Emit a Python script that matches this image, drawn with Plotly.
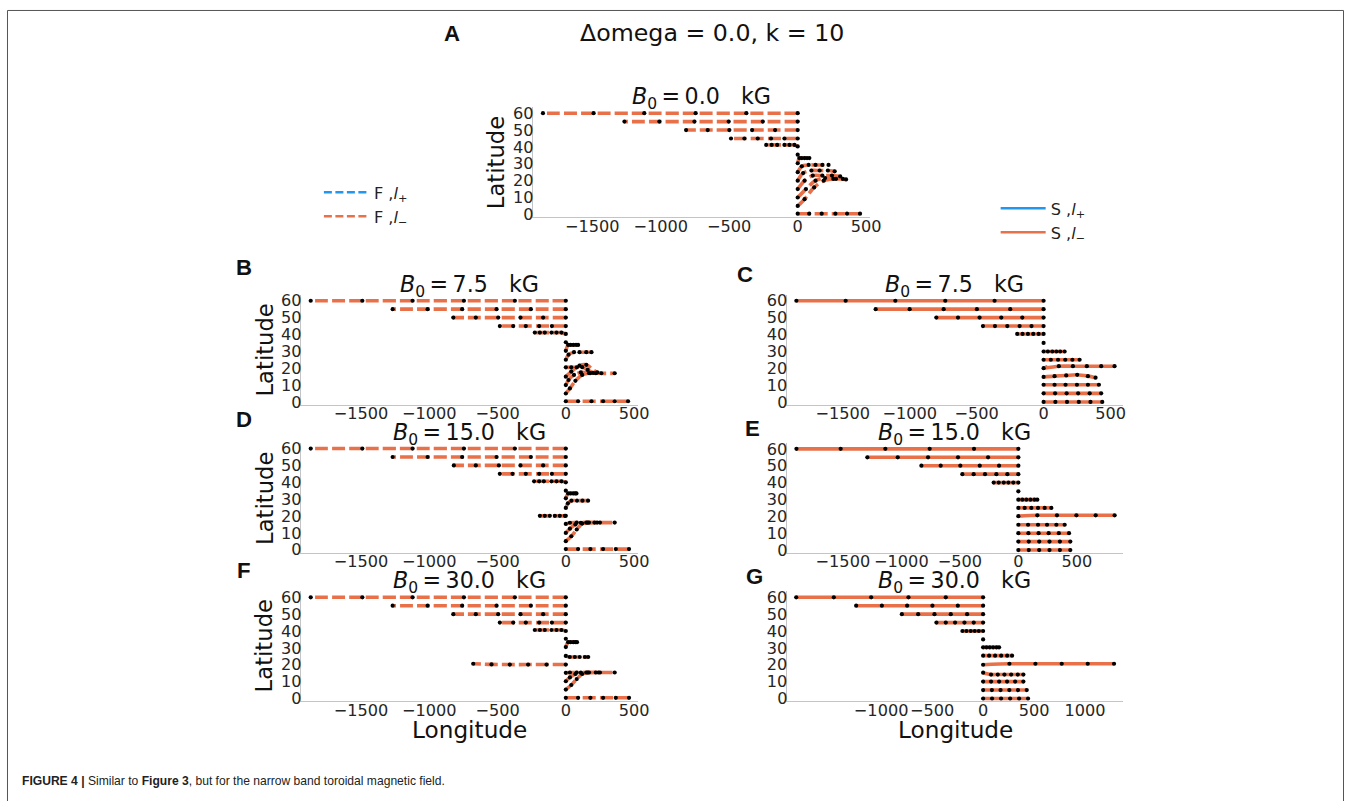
import plotly.graph_objects as go

W, H = 1356, 808
S = 0.9915          # the page is photographed at this scale; positions below are given in photo pixels
ORANGE = "#e8714a"
BLUE = "#2196f3"
FONT = "DejaVu Sans"

# ---------------- data: trajectories (longitude, latitude) ----------------
# Panel A : F, B0 = 0.0 kG
A_lon = [
    [0, -375, -745, -1120, -1490, -1860],
    [0, -255, -504, -754, -1010, -1265],
    [0, -165, -333, -499, -657, -815],
    [0, -97, -195, -292, -389, -487],
    [0, -24, -60, -97, -150, -190, -230],
    [0],
    [0, 12, 30, 50, 68, 85],
    [0, 30, 80, 130, 180, 225],
    [0, 40, 100, 160, 220, 270],
    [0, 50, 110, 180, 250, 310],
    [0, 60, 130, 200, 280, 353],
    [0, 50, 120, 190, 260, 330],
    [0, 84, 175, 275, 360, 455],
]
A_lat = [
    [60, 60, 60, 60, 60, 60],
    [55, 55, 55, 55, 55, 55],
    [50, 50, 50, 50, 50, 50],
    [45, 45, 45, 45, 45, 45],
    [40.3, 41.2, 41.2, 41.2, 41.2, 41.2, 41.2],
    [35.4],
    [30.3, 33.4, 33.4, 33.4, 33.4, 33.4],
    [25, 28.5, 29.3, 29.3, 29.3, 29.3],
    [20, 24.5, 26, 26, 26, 25.5],
    [15, 20, 23, 23, 23, 22.5],
    [10, 15, 20, 21.5, 21, 20.7],
    [5, 9, 16, 20, 21, 21],
    [0.4, 0.4, 0.4, 0.4, 0.4, 0.4],
]

# Panel B : F, B0 = 7.5 kG
B_lon = [
    [0, -373, -746, -1122, -1490, -1868],
    [0, -256, -507, -759, -1012, -1268],
    [0, -166, -332, -495, -659, -824],
    [0, -102, -195, -293, -385, -483],
    [0, -32, -68, -105, -154, -190, -227],
    [0],
    [0, 17, 35, 55, 75, 90],
    [0, 20, 60, 100, 150, 188],
    [0, 40, 80, 120, 160, 200],
    [0, 40, 100, 150, 230, 358],
    [0, 20, 60, 110, 180, 260],
    [0, 30, 70, 120, 170, 220],
    [0, 90, 188, 273, 358, 456],
]
B_lat = [
    [60, 60, 60, 60, 60, 60],
    [55, 55, 55, 55, 55, 55],
    [50, 50, 50, 50, 50, 50],
    [45, 45, 45, 45, 45, 45],
    [40.3, 41.1, 41.1, 41.1, 41.1, 41.1, 41.1],
    [35.4],
    [30.3, 33.8, 33.8, 33.8, 33.8, 33.8],
    [25, 28, 29.5, 29.5, 29.5, 29.5],
    [20.5, 20.5, 20.5, 20.6, 19, 17.2],
    [15, 18, 21.5, 22, 17.5, 17],
    [10, 13, 16, 17.5, 17.1, 17],
    [5, 8, 12.5, 16, 17, 17],
    [0.4, 0.4, 0.4, 0.4, 0.4, 0.4],
]

# Panel C : S, B0 = 7.5 kG
C_lon = [
    [0, -366, -734, -1107, -1478, -1846],
    [0, -249, -498, -746, -1000, -1254],
    [0, -159, -316, -478, -639, -801],
    [0, -90, -179, -271, -363, -453],
    [0, -37, -77, -117, -157, -197],
    [0],
    [0, 32, 65, 95, 124, 157],
    [0, 54, 108, 162, 215, 269],
    [0, 114, 219, 323, 430, 530],
    [0, 82, 169, 251, 331, 388],
    [0, 82, 164, 249, 331, 413],
    [0, 86, 172, 258, 344, 430],
    [0, 88, 175, 263, 350, 438],
]
C_lat = [
    [60, 60, 60, 60, 60, 60],
    [55, 55, 55, 55, 55, 55],
    [50, 50, 50, 50, 50, 50],
    [45, 45, 45, 45, 45, 45],
    [40.3, 40.3, 40.3, 40.3, 40.3, 40.3],
    [35],
    [29.9, 29.9, 29.9, 29.9, 29.9, 29.9],
    [25, 25, 25, 25, 25, 25],
    [20, 21.2, 21.2, 21.2, 21.2, 21.2],
    [14.8, 15.3, 15.7, 16.1, 15.3, 14.4],
    [10.2, 10.2, 10.2, 10.2, 10.2, 10.2],
    [5.1, 5.1, 5.1, 5.1, 5.1, 5.1],
    [0, 0, 0, 0, 0, 0],
]
C_plus_lon = [0, 30]
C_plus_lat = [20, 20.9]

# Panel D : F, B0 = 15.0 kG
D_lon = [
    [0, -373, -746, -1122, -1490, -1868],
    [0, -256, -507, -759, -1012, -1268],
    [0, -166, -332, -490, -659, -820],
    [0, -102, -195, -293, -390, -483],
    [0, -32, -68, -105, -161, -195, -232],
    [0],
    [0, 17, 35, 55, 70, 78],
    [0, 15, 41, 82, 122, 163],
    [0, -7, -44, -80, -117, -154, -190],
    [0, 30, 80, 150, 250, 358],
    [0, 30, 70, 110, 160, 210],
    [0, 40, 80, 120, 170, 230],
    [0, 90, 180, 273, 366, 463],
]
D_lat = [
    [60, 60, 60, 60, 60, 60],
    [55, 55, 55, 55, 55, 55],
    [50, 50, 50, 50, 50, 50],
    [45, 45, 45, 45, 45, 45],
    [40, 40.6, 40.6, 40.6, 40.6, 40.6, 40.6],
    [35],
    [30.5, 33.4, 33.4, 33.4, 33.4, 33.4],
    [24.8, 27.5, 29.1, 29.1, 29.1, 29.1],
    [20.1, 20.1, 20.1, 20.1, 20.1, 20.1, 20.1],
    [15.3, 16, 16.1, 16.1, 16.1, 16.1],
    [10, 12.5, 15, 16, 16.1, 16.1],
    [5.1, 8, 12, 15.5, 16.1, 16.1],
    [0.4, 0.4, 0.4, 0.4, 0.4, 0.4],
]

# Panel E : S, B0 = 15.0 kG
E_lon = [
    [0, -379, -758, -1137, -1519, -1897],
    [0, -259, -516, -772, -1031, -1291],
    [0, -165, -330, -496, -664, -829],
    [0, -94, -188, -285, -382, -479],
    [0, -43, -85, -125, -168, -211],
    [0],
    [0, 34, 68, 103, 137, 162],
    [0, 54, 111, 168, 225, 282],
    [0, 162, 330, 496, 661, 823],
    [0, 83, 168, 245, 325, 396],
    [0, 86, 173, 259, 346, 433],
    [0, 89, 178, 266, 355, 444],
    [0, 89, 178, 266, 355, 444],
]
E_lat = [
    [60, 60, 60, 60, 60, 60],
    [55, 55, 55, 55, 55, 55],
    [50, 50, 50, 50, 50, 50],
    [45, 45, 45, 45, 45, 45],
    [40, 40, 40, 40, 40, 40],
    [34.8],
    [29.9, 29.9, 29.9, 29.9, 29.9, 29.9],
    [25, 25, 25, 25, 25, 25],
    [20.1, 20.6, 20.6, 20.6, 20.6, 20.6],
    [15, 15, 15, 15, 15, 15],
    [10, 10, 10, 10, 10, 10],
    [5, 5, 5, 5, 5, 5],
    [0, 0, 0, 0, 0, 0],
]

# Panel F : F, B0 = 30.0 kG
F_lon = [
    [0, -373, -746, -1122, -1490, -1868],
    [0, -256, -507, -759, -1012, -1268],
    [0, -166, -332, -495, -659, -824],
    [0, -102, -195, -293, -385, -483],
    [0, -32, -68, -105, -154, -190, -227],
    [0],
    [0, 17, 35, 55, 70, 82],
    [0, 29, 66, 102, 140, 164],
    [0, -141, -276, -410, -544, -678],
    [0, 30, 80, 150, 250, 358],
    [0, 30, 70, 110, 160, 220],
    [0, 40, 80, 120, 170, 240],
    [0, 90, 180, 273, 366, 463],
]
F_lat = [
    [60, 60, 60, 60, 60, 60],
    [55, 55, 55, 55, 55, 55],
    [50, 50, 50, 50, 50, 50],
    [45, 45, 45, 45, 45, 45],
    [40, 40.6, 40.6, 40.6, 40.6, 40.6, 40.6],
    [35.4],
    [30.5, 33.4, 33.4, 33.4, 33.4, 33.4],
    [25.2, 24.6, 24.6, 24.6, 24.6, 24.6],
    [20.1, 20.1, 20.1, 20.1, 20.2, 20.6],
    [15.2, 15.4, 15.4, 15.4, 15.4, 15.4],
    [10.2, 12.5, 14.5, 15.3, 15.4, 15.4],
    [5.3, 8, 11.5, 14.5, 15.4, 15.4],
    [0.4, 0.4, 0.4, 0.4, 0.4, 0.4],
]

# Panel G : S, B0 = 30.0 kG
G_lon = [
    [0, -366, -732, -1098, -1464, -1833],
    [0, -248, -497, -745, -993, -1245],
    [0, -157, -317, -477, -637, -797],
    [0, -92, -183, -275, -366, -458],
    [0, -42, -82, -121, -163, -203],
    [0],
    [0, 33, 65, 98, 131, 157],
    [0, 59, 118, 177, 236, 284],
    [0, 258, 513, 771, 1026, 1284],
    [0, 78, 144, 209, 275, 340, 395],
    [0, 78, 157, 235, 314, 395],
    [0, 86, 171, 257, 342, 428],
    [0, 88, 176, 265, 353, 441],
]
G_lat = [
    [60, 60, 60, 60, 60, 60],
    [55, 55, 55, 55, 55, 55],
    [50, 50, 50, 50, 50, 50],
    [45, 45, 45, 45, 45, 45],
    [40, 40, 40, 40, 40, 40],
    [35],
    [30.3, 30.3, 30.3, 30.3, 30.3, 30.3],
    [25.4, 25.4, 25.4, 25.4, 25.4, 25.4],
    [20, 20.6, 20.6, 20.6, 20.6, 20.6],
    [15.3, 14.2, 14.2, 14.2, 14.2, 14.2, 14.2],
    [10, 10, 10, 10, 10, 10],
    [5, 5, 5, 5, 5, 5],
    [0, 0, 0, 0, 0, 0],
]

B0_values = ["0.0", "7.5", "7.5", "15.0", "15.0", "30.0", "30.0"]
panel_letters = ["A", "B", "C", "D", "E", "F", "G"]
panel_kind = ["F", "F", "S", "F", "S", "F", "S"]
lat_ticks = [0, 10, 20, 30, 40, 50, 60]
lon_ticks_std = [-1500, -1000, -500, 0, 500]
lon_ticks_G = [-1000, -500, 0, 500, 1000]

# ---------------- layout geometry (photo pixels from top-left) ----------------
geom = [
    ((533, 870), (104.6, 215.0), (-1934, 525.5)),
    ((301, 638), (292.9, 403.3), (-1940, 527)),
    ((787, 1123), (292.9, 403.3), (-1918, 590)),
    ((301, 638), (441.3, 551.7), (-1940, 527)),
    ((787, 1123), (441.6, 552.0), (-1980, 891)),
    ((301, 638), (590.6, 701.0), (-1940, 527)),
    ((787, 1123), (590.6, 701.0), (-1926, 1368)),
]
Y_RANGE = [-1.65, 63.55]

data_lon = [A_lon, B_lon, C_lon, D_lon, E_lon, F_lon, G_lon]
data_lat = [A_lat, B_lat, C_lat, D_lat, E_lat, F_lat, G_lat]


def px_x(p):
    return min(p / S / W, 1.0)


def px_y(p):
    return max(1 - p / S / H, 0.0)


def fs(size):
    return size / S


def tick_text(v):
    return ("\u2212" + str(-v)) if v < 0 else str(v)


fig = go.Figure()
layout = {}
annotations = []

for i in range(7):
    sfx = "" if i == 0 else str(i + 1)
    xa, ya = "x" + sfx, "y" + sfx
    (xl, xr), (yt, yb), xr_ = geom[i]
    dashed = panel_kind[i] == "F"
    line_style = dict(color=ORANGE, width=3.6, shape="spline", smoothing=0.8)
    if dashed:
        line_style["dash"] = "13px,4px"
    if i == 2:
        fig.add_trace(go.Scatter(x=C_plus_lon, y=C_plus_lat, mode="lines",
                                 line=dict(color=BLUE, width=3.6),
                                 xaxis=xa, yaxis=ya, showlegend=False, hoverinfo="skip"))
    for lons, lats in zip(data_lon[i], data_lat[i]):
        if len(lons) > 1:
            fig.add_trace(go.Scatter(x=lons, y=lats, mode="lines", line=line_style,
                                     xaxis=xa, yaxis=ya, showlegend=False, hoverinfo="skip"))
    mx, my = [], []
    for lons, lats in zip(data_lon[i], data_lat[i]):
        mx += lons
        my += lats
    fig.add_trace(go.Scatter(x=mx, y=my, mode="markers",
                             marker=dict(color="black", size=4.2, line=dict(width=0)),
                             xaxis=xa, yaxis=ya, showlegend=False, hoverinfo="skip"))

    ticks = lon_ticks_G if i == 6 else lon_ticks_std
    layout["xaxis" + sfx] = dict(
        domain=[px_x(xl), px_x(xr)], anchor=ya, range=list(xr_),
        showline=True, linecolor="#c4c4c4", linewidth=1.2, showgrid=False, zeroline=False,
        ticks="", tickvals=ticks, ticktext=[tick_text(t) for t in ticks],
        ticklabelstandoff=-6, tickangle=0,
        tickfont=dict(family=FONT, size=fs(16), color="#262626"), fixedrange=True,
    )
    layout["yaxis" + sfx] = dict(
        domain=[px_y(yb), px_y(yt)], anchor=xa, range=Y_RANGE,
        showline=True, linecolor="#c4c4c4", linewidth=1.2, showgrid=False, zeroline=False,
        ticks="", tickvals=lat_ticks, ticktext=[str(t) for t in lat_ticks],
        ticklabelstandoff=-5, tickangle=0,
        tickfont=dict(family=FONT, size=fs(16), color="#262626"), fixedrange=True,
    )
    annotations.append(dict(
        x=px_x((xl + xr) / 2), y=px_y(yt - 9), xref="paper", yref="paper",
        xanchor="center", yanchor="middle", showarrow=False,
        text="<i>B</i><sub>0</sub>\u2009=\u2009" + B0_values[i] + "\u00a0\u00a0 kG",
        font=dict(family=FONT, size=fs(22), color="#111"),
    ))

# legend entries
fig.add_trace(go.Scatter(x=[None], y=[None], mode="lines", name="F ,<i>l</i><sub>+</sub>",
                         line=dict(color=BLUE, width=2.5, dash="8px,3.5px"),
                         legend="legend", legendgroup="f1"))
fig.add_trace(go.Scatter(x=[None], y=[None], mode="lines", name="F ,<i>l</i><sub>\u2212</sub>",
                         line=dict(color=ORANGE, width=2.5, dash="8px,3.5px"),
                         legend="legend", legendgroup="f2"))
fig.add_trace(go.Scatter(x=[None], y=[None], mode="lines", name="S ,<i>l</i><sub>+</sub>",
                         line=dict(color=BLUE, width=2.5),
                         legend="legend2", legendgroup="s1"))
fig.add_trace(go.Scatter(x=[None], y=[None], mode="lines", name="S ,<i>l</i><sub>\u2212</sub>",
                         line=dict(color=ORANGE, width=2.5),
                         legend="legend2", legendgroup="s2"))

lat_label_pos = [(497, 160), (265, 348), (265, 497), (265, 645)]
for (px, py) in lat_label_pos:
    annotations.append(dict(x=px_x(px), y=px_y(py), xref="paper", yref="paper",
                            text="Latitude", textangle=-90, showarrow=False,
                            xanchor="center", yanchor="middle",
                            font=dict(family=FONT, size=fs(22.5), color="#111")))
for (px, py) in [(470, 729), (956, 729)]:
    annotations.append(dict(x=px_x(px), y=px_y(py), xref="paper", yref="paper",
                            text="Longitude", showarrow=False,
                            xanchor="center", yanchor="middle",
                            font=dict(family=FONT, size=fs(23), color="#111")))

letter_pos = [(452, 31), (244, 266), (745, 273), (244, 418), (753, 427), (244, 570), (755, 576)]
for L, (px, py) in zip(panel_letters, letter_pos):
    annotations.append(dict(x=px_x(px), y=px_y(py), xref="paper", yref="paper",
                            text="<b>" + L + "</b>", showarrow=False,
                            xanchor="center", yanchor="middle",
                            font=dict(family="Liberation Sans", size=fs(22), color="#111")))

annotations.append(dict(x=px_x(712), y=px_y(30), xref="paper", yref="paper",
                        text="\u0394omega = 0.0, k = 10", showarrow=False,
                        xanchor="center", yanchor="middle",
                        font=dict(family=FONT, size=fs(23.5), color="#111")))
annotations.append(dict(x=px_x(20.5), y=px_y(781), xref="paper", yref="paper",
                        text="<b>FIGURE 4 |</b> Similar to <b>Figure 3</b>, but for the narrow band toroidal magnetic field.",
                        showarrow=False, xanchor="left", yanchor="middle",
                        font=dict(family="Liberation Sans", size=fs(12), color="#222")))

# page frame (left, top, right edges; bottom edge lies below the page)
frame = dict(color="#555", width=1)
x_left, x_right, y_top = px_x(7.5), min(px_x(1348.5), 1355.5 / W), px_y(7.5)
shapes = [
    dict(type="line", xref="paper", yref="paper", x0=x_left, x1=x_left, y0=0, y1=y_top, line=frame),
    dict(type="line", xref="paper", yref="paper", x0=x_left, x1=x_right, y0=y_top, y1=y_top, line=frame),
    dict(type="line", xref="paper", yref="paper", x0=x_right, x1=x_right, y0=0, y1=y_top, line=frame),
]

layout.update(dict(
    width=W, height=H, autosize=False, margin=dict(l=0, r=0, t=0, b=0),
    paper_bgcolor="white", plot_bgcolor="white",
    annotations=annotations,
    shapes=shapes,
    legend=dict(x=px_x(319), y=px_y(173), xanchor="left", yanchor="top",
                bgcolor="rgba(0,0,0,0)", itemwidth=45, tracegroupgap=0,
                traceorder="grouped", font=dict(family=FONT, size=fs(16), color="#222")),
    legend2=dict(x=px_x(996), y=px_y(189), xanchor="left", yanchor="top",
                 bgcolor="rgba(0,0,0,0)", itemwidth=45, tracegroupgap=0,
                 traceorder="grouped", font=dict(family=FONT, size=fs(16), color="#222")),
    showlegend=True,
))
fig.update_layout(layout)
fig.write_html(
    "out.html",
    config={"displayModeBar": False, "responsive": False},
    post_script="document.body.style.margin='0px';",
)
